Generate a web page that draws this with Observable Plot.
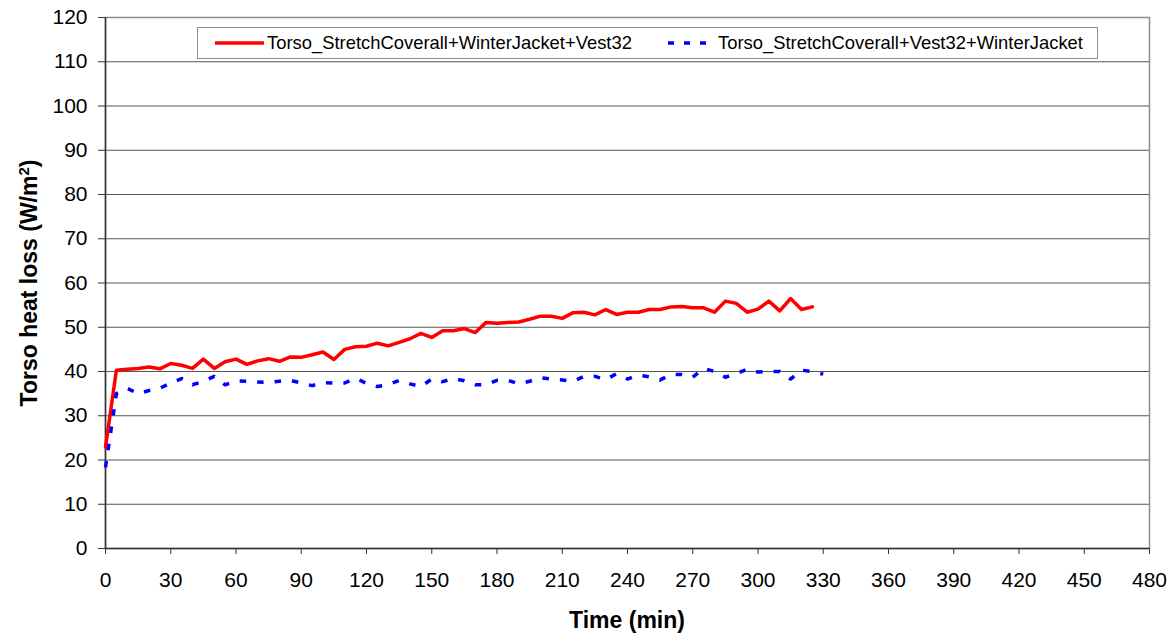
<!DOCTYPE html>
<html>
<head>
<meta charset="utf-8">
<script src="https://cdn.jsdelivr.net/npm/d3@7"></script>
<script src="https://cdn.jsdelivr.net/npm/@observablehq/plot@0.6"></script>
<style>
  body { margin: 0; background: #fff; }
  #wrap { position: relative; width: 1174px; height: 633px; font-family: "Liberation Sans", Arial, sans-serif; }
  #legend { position: absolute; left: 197px; top: 27px; width: 901px; height: 32px; border: 1px solid #8c8c8c; background: #fff; box-sizing: border-box; }
  .sw { position: absolute; top: 12px; }
  .lt { position: absolute; top: 4px; font-size: 18.4px; line-height: 22px; color: #000; white-space: nowrap; }
</style>
</head>
<body>
<div id="wrap"></div>
<script>
// ---- data ----
const times = [0,5,10,15,20,25,30,35,40,45,50,55,60,65,70,75,80,85,90,95,100,105,110,115,120,125,130,135,140,145,150,155,160,165,170,175,180,185,190,195,200,205,210,215,220,225,230,235,240,245,250,255,260,265,270,275,280,285,290,295,300,305,310,315,320,325,330];

const seriesA = "Torso_StretchCoverall+WinterJacket+Vest32";
const valuesA = [22.9,40.3,40.5,40.7,41.0,40.6,41.8,41.4,40.7,42.8,40.7,42.2,42.8,41.6,42.4,42.9,42.3,43.3,43.2,43.8,44.4,42.7,45.0,45.6,45.7,46.4,45.8,46.6,47.4,48.6,47.7,49.2,49.2,49.7,48.8,51.1,50.9,51.1,51.2,51.8,52.5,52.5,52.0,53.3,53.4,52.8,54.0,52.9,53.4,53.4,54.0,54.0,54.6,54.7,54.4,54.4,53.4,55.9,55.4,53.4,54.1,55.9,53.7,56.5,54.0,54.6];

const seriesB = "Torso_StretchCoverall+Vest32+WinterJacket";
const valuesB = [18.3,35.0,36.2,35.0,35.7,36.2,37.4,38.4,37.0,37.8,38.9,37.0,37.9,37.8,37.6,37.5,37.8,38.0,37.4,36.8,37.5,37.4,37.4,38.5,37.3,36.6,37.0,38.0,37.2,36.6,38.3,37.7,38.4,37.9,37.0,37.0,38.0,38.0,37.2,37.8,38.6,38.3,38.1,37.8,38.9,38.9,38.2,39.5,38.3,39.2,38.8,38.1,39.3,39.3,38.7,40.7,40.0,38.7,39.5,40.5,39.9,40.0,40.0,38.3,40.3,40.0,39.4];

const xTicks = [0,30,60,90,120,150,180,210,240,270,300,330,360,390,420,450,480];
const yTicks = [0,10,20,30,40,50,60,70,80,90,100,110,120];

const xTitle = "Time (min)";
const yTitleMain = "Torso heat loss (W/m";
const yTitleSup = "2";
const yTitleEnd = ")";

const colorA = "#ff0000";
const colorB = "#0000ff";

// ---- tables ----
const dataA = valuesA.map((v, i) => ({t: times[i], v}));
const dataB = valuesB.map((v, i) => ({t: times[i], v}));

const chart = Plot.plot({
  width: 1174,
  height: 633,
  marginLeft: 105,
  marginRight: 25,
  marginTop: 17,
  marginBottom: 85,
  style: { fontFamily: "'Liberation Sans', Arial, sans-serif", fontSize: "21px", color: "#000", background: "#fff" },
  x: { domain: [0, 480], ticks: xTicks, label: null },
  y: { domain: [0, 120], ticks: yTicks, label: null },
  marks: [
    Plot.gridY(yTicks, { stroke: "#555", strokeOpacity: 1, strokeWidth: 1 }),
    Plot.frame({ stroke: "#8c8c8c", strokeWidth: 1.5 }),
    Plot.axisY(yTicks, { tickSize: 7, tickPadding: 11, stroke: "#333", fontSize: 21, label: null }),
    Plot.axisX(xTicks, { tickSize: 6, tickPadding: 18, stroke: "#333", fontSize: 21, label: null }),
    Plot.ruleX([0], { stroke: "#333", strokeWidth: 1.5 }),
    Plot.ruleY([0], { stroke: "#333", strokeWidth: 1.5 }),
    Plot.line(dataA, { x: "t", y: "v", stroke: colorA, strokeWidth: 3.5, strokeLinejoin: "round" }),
    Plot.line(dataB, { x: "t", y: "v", stroke: colorB, strokeWidth: 3.5, strokeDasharray: "6.5,11", strokeLinecap: "butt" })
  ]
});

const wrap = document.getElementById("wrap");
wrap.appendChild(chart);

const svg = d3.select(chart);
// y title
const yt = svg.append("text")
  .attr("transform", "translate(37,283) rotate(-90)")
  .attr("text-anchor", "middle")
  .attr("font-weight", "bold")
  .attr("font-size", 23)
  .attr("fill", "#000");
yt.append("tspan").text(yTitleMain);
yt.append("tspan").attr("dy", "-0.55em").attr("font-size", "0.65em").text(yTitleSup);
yt.append("tspan").attr("dy", "0.36em").text(yTitleEnd);
// x title
svg.append("text")
  .attr("x", 627).attr("y", 628)
  .attr("text-anchor", "middle")
  .attr("font-weight", "bold")
  .attr("font-size", 23)
  .attr("fill", "#000")
  .text(xTitle);

// legend
const legend = document.createElement("div");
legend.id = "legend";
legend.innerHTML = `
  <svg class="sw" style="left:17px" width="49" height="6"><line x1="0" y1="3" x2="49" y2="3" stroke="${colorA}" stroke-width="3.5"/></svg>
  <div class="lt" style="left:69px">${seriesA}</div>
  <svg class="sw" style="left:470px" width="46" height="6"><line x1="0" y1="3" x2="46" y2="3" stroke="${colorB}" stroke-width="3.5" stroke-dasharray="6,10"/></svg>
  <div class="lt" style="left:520px">${seriesB}</div>`;
wrap.appendChild(legend);
</script>
</body>
</html>
